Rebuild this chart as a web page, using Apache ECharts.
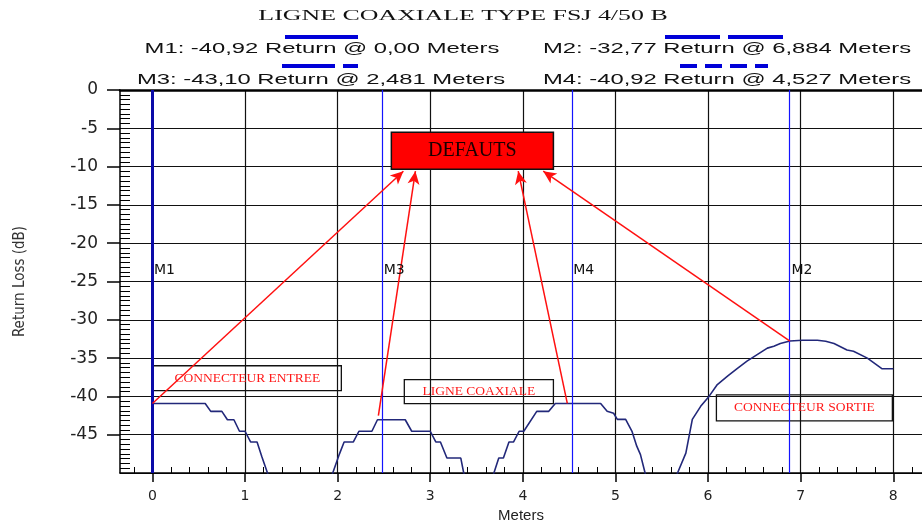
<!DOCTYPE html>
<html>
<head>
<meta charset="utf-8">
<script src="https://cdn.jsdelivr.net/npm/echarts@6/dist/echarts.min.js"></script>
<style>
  html, body { margin: 0; padding: 0; background: #fff; }
  #chart { width: 922px; height: 520px; }
</style>
</head>
<body>
<div id="chart"></div>
<script>
// return loss trace (meters / dB)
// values below -50 are off the bottom of the plot, only there so the dips dive out
var distM = [0.00, 0.57, 0.63, 0.75, 0.81, 0.88, 0.94, 1.00, 1.06, 1.13, 1.18, 1.24, 1.42, 1.60, 1.78,
  1.95, 2.02, 2.07, 2.17, 2.23, 2.37, 2.43, 2.73, 2.80, 3.00, 3.06, 3.11, 3.18, 3.33, 3.36, 3.52,
  3.69, 3.74, 3.79, 3.85, 3.90, 3.96, 4.01, 4.15, 4.28, 4.35, 4.84, 4.91, 4.98, 5.02, 5.11, 5.18,
  5.23, 5.27, 5.32, 5.50, 5.67, 5.76, 5.83, 5.92, 6.01, 6.10, 6.21, 6.31, 6.42, 6.53, 6.64, 6.71,
  6.78, 6.884, 7.02, 7.18, 7.27, 7.36, 7.50, 7.57, 7.72, 7.88, 8.00];
var lossDb = [-40.92, -40.92, -41.95, -41.95, -43.05, -43.05, -44.55, -44.55, -45.95, -45.95, -47.8, -49.9, -56, -60, -56,
  -49.9, -47.5, -45.95, -45.95, -44.55, -44.55, -43.05, -43.05, -44.55, -44.55, -45.95, -45.95, -48.05, -48.05, -49.9, -56,
  -49.9, -48.05, -48.05, -45.95, -45.95, -44.55, -44.55, -41.95, -41.95, -40.92, -40.92, -41.95, -42.2, -43.0, -43.0, -44.6,
  -46.5, -47.6, -50.0, -58, -50.0, -47.4, -43.0, -41.3, -40.0, -38.45, -37.35, -36.4, -35.4, -34.55, -33.7, -33.45,
  -33.1, -32.77, -32.66, -32.66, -32.8, -33.1, -33.95, -34.1, -35.0, -36.4, -36.4];

// x tick labels (meters)
var meterTicks = [0, 1, 2, 3, 4, 5, 6, 7, 8];

// markers
var markerNames = ['M1', 'M2', 'M3', 'M4'];
var markerPos = [0, 6.884, 2.481, 4.527];
var markerLossText = ['-40,92', '-32,77', '-43,10', '-40,92'];
var markerPosText = ['0,00', '6,884', '2,481', '4,527'];
var markerLabelY = -23.5;

// annotation boxes and the arrows pointing at "DEFAUTS"
var boxNames = ['DEFAUTS', 'CONNECTEUR ENTREE', 'LIGNE COAXIALE', 'CONNECTEUR SORTIE'];
var boxX = [[2.58, 4.33], [0.01, 2.04], [2.72, 4.33], [6.09, 7.99]];
var boxY = [[-5.5, -10.35], [-36.0, -39.25], [-37.8, -40.95], [-39.8, -43.2]];
var arrowFrom = [[0, -40.92], [2.44, -42.5], [4.48, -40.9], [6.884, -32.77]];
var arrowTo = [[2.71, -10.6], [2.84, -10.6], [3.95, -10.6], [4.22, -10.6]];

var xMin = -0.35, xMax = 8.31;

var trace = distM.map(function (d, i) { return [d, lossDb[i]]; });

var myChart = echarts.init(document.getElementById('chart'), null, { renderer: 'canvas' });

var xBase = { type: 'value', min: xMin, max: xMax, minInterval: 1, maxInterval: 1, splitNumber: 9 };
var yBase = { type: 'value', min: -50, max: 0, interval: 5 };

var legendLines = [
  { x1: 285, x2: 358, y: 37, dash: null },
  { x1: 665, x2: 785, y: 37, dash: [55, 8] },
  { x1: 282, x2: 358, y: 66, dash: [53, 8, 15, 8] },
  { x1: 680, x2: 768, y: 66, dash: [17, 8] }
];
var legendTextPos = [[322, 49], [727, 49], [321, 80], [727, 80]];

var graphics = [{
  type: 'text', x: 463, y: 16, scaleX: 1.85,
  style: { text: 'LIGNE COAXIALE TYPE FSJ 4/50 B', fill: '#111', font: '14px "Liberation Serif"', align: 'center', verticalAlign: 'middle' }
}];
markerNames.forEach(function (n, i) {
  graphics.push({
    type: 'text', x: legendTextPos[i][0], y: legendTextPos[i][1], scaleX: 1.7,
    style: {
      text: n + ': ' + markerLossText[i] + ' Return @ ' + markerPosText[i] + ' Meters',
      fill: '#111', font: '14px "Liberation Sans"', align: 'center', verticalAlign: 'middle'
    }
  });
  var l = legendLines[i];
  graphics.push({
    type: 'line', shape: { x1: l.x1, y1: l.y, x2: l.x2, y2: l.y },
    style: { stroke: '#0000d8', lineWidth: 4, lineDash: l.dash }
  });
});

myChart.setOption({
  animation: false,
  grid: { left: 120, right: 0, top: 90, bottom: 47, containLabel: false, outerBoundsMode: 'none' },
  graphic: graphics,
  xAxis: [
    Object.assign({}, xBase, {
      position: 'bottom',
      axisLine: { onZero: false, lineStyle: { color: '#000', width: 1.5 } },
      axisTick: { customValues: meterTicks, length: 9, lineStyle: { color: '#000', width: 1.5 } },
      splitLine: { show: true, lineStyle: { color: '#111', width: 1.2 } },
      axisLabel: { customValues: meterTicks, margin: 16, color: '#222', fontFamily: 'DejaVu Sans', fontSize: 14 },
      name: 'Meters', nameLocation: 'middle', nameGap: 29,
      nameTextStyle: { color: '#222', fontFamily: 'Liberation Sans', fontSize: 15 }
    }),
    Object.assign({}, xBase, {
      position: 'bottom',
      axisLine: { show: false, onZero: false },
      axisTick: { show: true, inside: true, length: 0, lineStyle: { color: '#000', width: 1 } },
      axisLabel: { show: false },
      splitLine: { show: false },
      minorTick: { show: true, splitNumber: 5, length: 6, lineStyle: { color: '#000', width: 1 } }
    }),
    Object.assign({}, xBase, {
      position: 'top',
      axisLine: { onZero: false, lineStyle: { color: '#000', width: 2.5 } },
      axisTick: { show: false },
      axisLabel: { show: false },
      splitLine: { show: false }
    })
  ],
  yAxis: [
    Object.assign({}, yBase, {
      position: 'left',
      axisLine: { onZero: false, lineStyle: { color: '#000', width: 1.5 } },
      axisTick: { length: 13, lineStyle: { color: '#000', width: 1.5 } },
      splitLine: { show: true, lineStyle: { color: '#111', width: 1.2 } },
      axisLabel: { showMinLabel: false, margin: 22, color: '#222', fontFamily: 'DejaVu Sans', fontSize: 17 },
      name: 'Return Loss (dB)', nameLocation: 'middle', nameGap: 92, nameRotate: 90,
      nameTextStyle: { color: '#333', fontFamily: '"Liberation Sans Narrow", "DejaVu Sans Condensed", sans-serif', fontSize: 15 }
    }),
    Object.assign({}, yBase, {
      position: 'left',
      axisLine: { show: false, onZero: false },
      axisTick: { show: true, inside: true, length: 0, lineStyle: { color: '#000', width: 1 } },
      axisLabel: { show: false },
      splitLine: { show: false },
      minorTick: { show: true, splitNumber: 8, length: 10, lineStyle: { color: '#000', width: 1 } }
    })
  ],
  series: [
    {
      name: 'Return Loss',
      type: 'line',
      data: trace,
      xAxisIndex: 0,
      yAxisIndex: 0,
      showSymbol: false,
      symbol: 'none',
      clip: true,
      z: 4,
      lineStyle: { color: '#22287a', width: 1.6 },
      markLine: {
        silent: true,
        symbol: 'none',
        label: { show: false },
        data: markerNames.map(function (n, i) {
          return {
            xAxis: markerPos[i],
            lineStyle: { type: 'solid', color: i === 0 ? '#0a0aa8' : '#1414ff', width: i === 0 ? 3 : 1.2 }
          };
        })
      },
      markPoint: {
        silent: true,
        symbol: 'rect',
        symbolSize: 1,
        itemStyle: { color: 'rgba(0,0,0,0)' },
        label: { show: true, position: 'right', distance: 1, formatter: '{b}', color: '#111', fontFamily: 'DejaVu Sans', fontSize: 14 },
        data: markerNames.map(function (n, i) {
          return { name: n, coord: [markerPos[i], markerLabelY] };
        })
      }
    },
    {
      name: 'annotations',
      type: 'line',
      data: [],
      xAxisIndex: 0,
      yAxisIndex: 0,
      z: 5,
      markArea: {
        silent: true,
        data: boxNames.map(function (n, i) {
          var big = i === 0;
          return [
            {
              name: n,
              coord: [boxX[i][0], boxY[i][0]],
              itemStyle: { color: big ? '#ff0000' : 'rgba(0,0,0,0)', borderColor: '#111', borderWidth: big ? 1.5 : 1.3 },
              label: {
                show: true, position: 'inside',
                color: big ? '#1a0000' : '#ff1a1a',
                fontFamily: 'Liberation Serif',
                fontSize: big ? 20 : 13.5
              }
            },
            { coord: [boxX[i][1], boxY[i][1]] }
          ];
        })
      },
      markLine: {
        silent: true,
        symbol: ['none', 'arrow'],
        symbolSize: [9, 13],
        label: { show: false },
        lineStyle: { type: 'solid', color: '#ff1010', width: 1.5 },
        data: arrowFrom.map(function (p, i) {
          return [{ coord: p }, { coord: arrowTo[i] }];
        })
      }
    }
  ]
});
</script>
</body>
</html>
